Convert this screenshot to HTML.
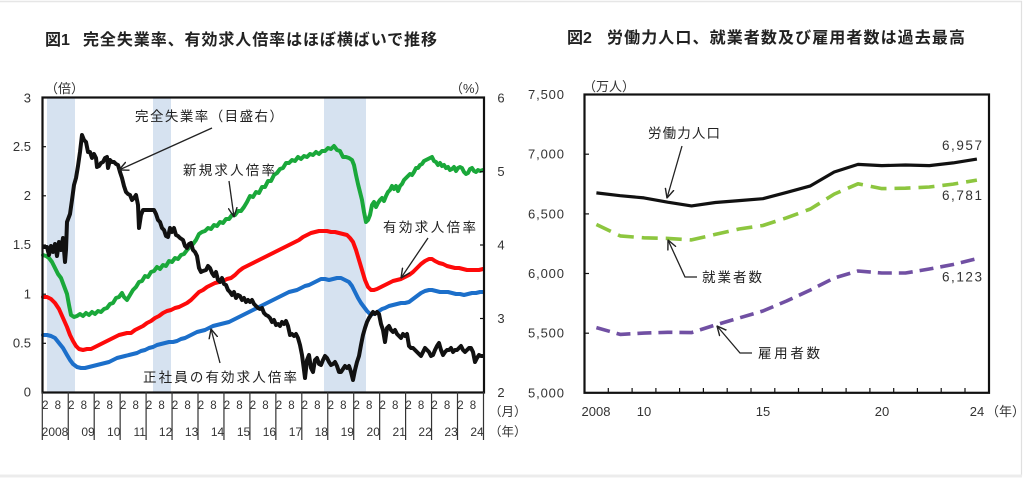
<!DOCTYPE html>
<html><head><meta charset="utf-8">
<style>
html,body{margin:0;padding:0;background:#fff;overflow:hidden;}
svg{display:block;}
text{font-family:"Liberation Sans","Noto Sans CJK JP",sans-serif;}
</style></head>
<body>
<svg width="1024" height="478" viewBox="0 0 1024 478" xmlns="http://www.w3.org/2000/svg">
<defs>
<marker id="ah" viewBox="0 0 10 10" refX="9.5" refY="5" markerWidth="10" markerHeight="10" markerUnits="userSpaceOnUse" orient="auto">
<path d="M0,0.5 L9.5,5 L0,9.5" fill="none" stroke="#222" stroke-width="1.4"/>
</marker>
</defs>
<rect x="0" y="0" width="1024" height="478" fill="#fff"/>
<!-- faint frame -->
<line x1="0" y1="1.5" x2="1022" y2="1.5" stroke="#e6e6e6" stroke-width="1.5"/>
<line x1="1021.5" y1="1" x2="1021.5" y2="476" stroke="#e0e0e0" stroke-width="1.2"/>
<line x1="0" y1="476" x2="1022" y2="476" stroke="#ececec" stroke-width="3"/>

<!-- ============ LEFT CHART ============ -->
<text x="45" y="45" font-size="16" font-weight="bold" fill="#222">図1</text>
<text x="83" y="45" font-size="16" font-weight="bold" fill="#222" textLength="354" lengthAdjust="spacing">完全失業率、有効求人倍率はほぼ横ばいで推移</text>

<!-- shading -->
<rect x="47" y="98" width="28" height="294" fill="#d6e2f0"/>
<rect x="153" y="98" width="18" height="294" fill="#d6e2f0"/>
<rect x="324" y="98" width="42" height="294" fill="#d6e2f0"/>

<!-- axis labels left -->
<g font-size="13" fill="#333" text-anchor="end">
<text x="31" y="102.5">3</text>
<text x="31" y="151">2.5</text>
<text x="31" y="200">2</text>
<text x="31" y="249">1.5</text>
<text x="31" y="298.5">1</text>
<text x="31" y="347.5">0.5</text>
<text x="31" y="396.5">0</text>
</g>
<g font-size="13" fill="#333" text-anchor="middle">
<text x="501" y="102.5">6</text>
<text x="501" y="176">5</text>
<text x="501" y="249.5">4</text>
<text x="501" y="323">3</text>
<text x="501" y="397">2</text>
</g>
<text x="45" y="93" font-size="13" fill="#333">（倍）</text>
<text x="450" y="93" font-size="13" fill="#333">（%）</text>

<!-- series -->
<g fill="none" stroke-linejoin="round" stroke-linecap="round">
<polyline stroke="#1aa83a" stroke-width="4" points="43,255 46,256 49,258 52,262 55,268 58,274 61,278 64,286 67,294 69,305 71,315 74,317 77,316 80,314 83,316 86,313 89,315 92,312 95,314 98,311 101,312 104,309 107,308 110,304 113,303 116,298 119,297 122,293 124,297 127,300 130,295 133,290 136,287 139,282 142,281 145,276 148,277 151,272 154,271 157,267 160,269 163,265 166,266 169,261 172,262 175,258 178,259 181,255 184,254 187,250 190,247 193,244 196,240 199,234 202,232 205,231 208,228 211,229 214,225 217,226 220,222 223,223 226,219 229,219 232,215 235,215 238,211 241,211 244,207 247,202 250,196 253,197 256,192 259,193 262,187 265,187 268,181 271,181 274,175 277,173 280,169 283,168 286,163 289,163 292,160 295,161 298,157 301,159 304,156 307,157 310,154 313,155 316,152 319,154 322,151 325,151 328,148 331,149 334,146 337,150 340,151 343,157 346,157 349,158 352,160 354,165 356,175 358,184 360,192 362,200 364,212 366,222 368,220 370,215 372,205 374,202 376,207 378,203 380,200 382,198 384,201 386,196 388,192 390,190 392,186 394,189 396,186 398,191 400,186 402,184 404,180 406,178 408,176 410,174 412,175 414,172 416,168 418,168 420,165 422,164 424,161 426,160 428,159 430,158 432,157 434,161 436,162 438,165 440,163 442,166 444,165 446,168 448,167 450,170 452,169 454,167 456,171 458,168 460,167 462,168 464,172 466,174 468,173 470,169 472,168 474,171 476,172 478,170 480,171 483,170"/>
<polyline stroke="#fe0a0a" stroke-width="4" points="43,297 47,297 51,299 55,303 59,309 63,318 67,327 70,335 73,341 76,346 79,349 83,350 87,349 91,349 95,347 99,345 103,343 107,341 111,339 115,337 119,335 123,334 127,333 131,333 135,330 139,328 143,326 147,323 151,321 155,318 159,316 163,313 167,311 171,310 175,308 179,307 183,305 187,303 191,300 195,296 199,292 203,290 207,287 211,285 215,283 219,282 223,281 227,279 231,278 235,275 239,271 243,268 247,266 251,264 255,262 259,260 263,258 267,256 271,254 275,252 279,250 283,248 287,246 291,244 295,242 299,240 303,237 307,235 311,233 315,232 319,231 323,231 327,231 331,232 335,232 339,233 343,234 347,235 350,238 353,242 356,250 359,260 362,270 365,280 368,287 371,290 374,290 377,289 381,287 385,285 389,283 393,281 397,280 401,279 405,277 409,275 413,272 417,268 421,264 425,261 429,259 432,259 435,261 439,263 443,264 447,266 451,267 455,268 459,268 463,269 467,270 471,270 475,270 479,270 483,269"/>
<polyline stroke="#1c6fca" stroke-width="4" points="43,335 47,335 51,336 55,338 59,343 63,348 67,355 70,360 73,364 77,367 81,368 85,368 89,367 93,366 97,365 101,364 105,363 109,362 113,360 117,358 121,357 125,356 129,355 133,354 137,353 141,351 145,350 149,348 153,347 157,345 161,344 165,343 169,342 173,342 177,341 181,339 185,338 189,336 193,334 197,332 201,331 205,330 209,328 213,326 217,325 221,324 225,323 229,322 233,320 237,318 241,316 245,314 249,312 253,310 257,308 261,306 265,304 269,302 273,300 277,298 281,296 285,294 289,292 293,291 297,290 301,288 305,286 309,285 313,283 317,281 321,279 325,279 329,280 333,279 337,278 341,278 345,280 349,282 352,286 355,292 358,298 361,303 364,307 367,311 370,314 373,314 376,313 379,311 382,309 385,308 389,306 393,305 397,304 401,303 405,303 409,302 413,299 417,296 421,293 425,291 429,290 432,290 436,291 440,292 444,292 448,292 452,293 456,294 460,294 464,295 468,294 472,293 476,293 480,292 483,292"/>
<polyline stroke="#111" stroke-width="4" points="44,247 47,247 49,255 51,246 53,252 55,244 57,256 59,242 61,250 63,238 65,262 66,250 67,222 70,214 72,200 74,185 76,178 78,166 80,152 82,135 84,140 86,142 88,152 90,152 92,158 94,154 96,158 97,167 99,166 101,163 103,162 105,158 107,157 108,168 110,160 112,162 114,162 116,164 118,165 120,172 122,178 124,186 126,192 128,194 130,195 132,200 134,198 136,195 138,205 139,228 141,215 143,210 146,210 150,210 154,210 156,214 158,220 160,222 162,228 164,230 166,236 168,237 170,228 172,232 174,228 176,235 178,236 180,238 183,240 185,246 187,248 189,244 191,243 193,250 195,252 197,256 199,268 201,272 203,271 206,270 208,266 210,268 212,273 214,276 216,272 218,280 220,282 222,278 224,284 226,285 228,290 230,292 232,295 234,292 236,298 238,295 240,296 242,300 244,298 246,302 248,300 250,302 252,300 254,304 256,306 258,308 260,309 262,308 264,313 266,315 268,316 270,318 272,322 274,320 276,325 278,324 280,326 282,322 284,324 286,321 288,326 290,335 292,334 294,336 296,334 298,338 300,345 302,355 304,370 305,378 307,360 309,355 311,368 313,372 315,360 317,358 319,364 321,365 323,360 325,356 327,358 329,362 331,365 333,364 335,362 337,366 339,372 341,372 343,369 345,366 347,368 349,366 351,372 353,380 355,370 357,362 359,356 361,345 363,335 365,328 367,322 369,318 371,315 373,312 375,314 377,312 379,314 381,324 383,330 385,342 387,328 389,326 391,330 393,332 395,330 397,334 399,336 401,338 403,334 405,336 407,334 409,346 411,348 413,348 415,350 417,352 419,354 421,356 423,352 425,348 427,350 429,352 431,356 433,355 435,350 437,346 439,343 441,350 443,355 445,352 447,350 449,350 451,348 453,352 455,350 457,350 459,348 461,346 463,350 465,352 467,350 469,348 471,348 473,352 475,362 477,358 479,355 481,356 483,356"/>
</g>

<!-- left box & ticks -->
<rect x="42.5" y="97.5" width="441.5" height="295" fill="none" stroke="#111" stroke-width="2.2"/>
<g stroke="#111" stroke-width="1.2">
<line x1="42" y1="146.7" x2="46" y2="146.7"/>
<line x1="42" y1="195.8" x2="46" y2="195.8"/>
<line x1="42" y1="245" x2="46" y2="245"/>
<line x1="42" y1="294.2" x2="46" y2="294.2"/>
<line x1="42" y1="343.3" x2="46" y2="343.3"/>
<line x1="480" y1="171.7" x2="484" y2="171.7"/>
<line x1="480" y1="245" x2="484" y2="245"/>
<line x1="480" y1="318.5" x2="484" y2="318.5"/>
</g>

<!-- month labels -->
<g font-size="11.5" fill="#333" text-anchor="middle">
<text x="45.3" y="409">2</text><text x="57.8" y="409">8</text>
<text x="71.3" y="409">2</text><text x="83.8" y="409">8</text>
<text x="97.2" y="409">2</text><text x="109.7" y="409">8</text>
<text x="123.2" y="409">2</text><text x="135.7" y="409">8</text>
<text x="149.1" y="409">2</text><text x="161.6" y="409">8</text>
<text x="175.1" y="409">2</text><text x="187.6" y="409">8</text>
<text x="201" y="409">2</text><text x="213.5" y="409">8</text>
<text x="227" y="409">2</text><text x="239.5" y="409">8</text>
<text x="252.9" y="409">2</text><text x="265.4" y="409">8</text>
<text x="278.9" y="409">2</text><text x="291.4" y="409">8</text>
<text x="304.8" y="409">2</text><text x="317.3" y="409">8</text>
<text x="330.8" y="409">2</text><text x="343.3" y="409">8</text>
<text x="356.7" y="409">2</text><text x="369.2" y="409">8</text>
<text x="382.7" y="409">2</text><text x="395.2" y="409">8</text>
<text x="408.6" y="409">2</text><text x="421.1" y="409">8</text>
<text x="434.6" y="409">2</text><text x="447.1" y="409">8</text>
<text x="460.5" y="409">2</text><text x="473" y="409">8</text>
</g>
<g font-size="12" fill="#333" text-anchor="middle">
<text x="55" y="436">2008</text>
<text x="88" y="436">09</text>
<text x="113.7" y="436">10</text>
<text x="139.7" y="436">11</text>
<text x="165.6" y="436">12</text>
<text x="191.6" y="436">13</text>
<text x="217.5" y="436">14</text>
<text x="243.5" y="436">15</text>
<text x="269.4" y="436">16</text>
<text x="295.4" y="436">17</text>
<text x="321.3" y="436">18</text>
<text x="347.3" y="436">19</text>
<text x="373.2" y="436">20</text>
<text x="399.2" y="436">21</text>
<text x="425.1" y="436">22</text>
<text x="451.1" y="436">23</text>
<text x="477" y="436">24</text>
</g>
<text x="489" y="416" font-size="12.5" fill="#333">（月）</text>
<text x="489" y="436" font-size="12.5" fill="#333">（年）</text>
<g stroke="#333" stroke-width="1.2">
<line x1="42.3" y1="392" x2="42.3" y2="440"/>
<line x1="68.25" y1="392" x2="68.25" y2="440"/>
<line x1="94.2" y1="392" x2="94.2" y2="440"/>
<line x1="120.15" y1="392" x2="120.15" y2="440"/>
<line x1="146.1" y1="392" x2="146.1" y2="440"/>
<line x1="172.05" y1="392" x2="172.05" y2="440"/>
<line x1="198" y1="392" x2="198" y2="440"/>
<line x1="223.95" y1="392" x2="223.95" y2="440"/>
<line x1="249.9" y1="392" x2="249.9" y2="440"/>
<line x1="275.85" y1="392" x2="275.85" y2="440"/>
<line x1="301.8" y1="392" x2="301.8" y2="440"/>
<line x1="327.75" y1="392" x2="327.75" y2="440"/>
<line x1="353.7" y1="392" x2="353.7" y2="440"/>
<line x1="379.65" y1="392" x2="379.65" y2="440"/>
<line x1="405.6" y1="392" x2="405.6" y2="440"/>
<line x1="431.55" y1="392" x2="431.55" y2="440"/>
<line x1="457.5" y1="392" x2="457.5" y2="440"/>
<line x1="483.5" y1="392" x2="483.5" y2="440"/>
</g>

<!-- left annotations -->
<g font-size="13.5" fill="#222">
<text x="135" y="121" textLength="148" lengthAdjust="spacing">完全失業率（目盛右）</text>
<text x="183" y="175" textLength="92" lengthAdjust="spacing">新規求人倍率</text>
<text x="383" y="232" textLength="93" lengthAdjust="spacing">有効求人倍率</text>
<text x="143" y="382" textLength="154" lengthAdjust="spacing">正社員の有効求人倍率</text>
</g>
<g stroke="#222" stroke-width="1.3" fill="none" marker-end="url(#ah)">
<line x1="212" y1="128" x2="119" y2="170"/>
<line x1="229" y1="181" x2="234" y2="217"/>
<line x1="428" y1="238" x2="401" y2="278"/>
<line x1="220" y1="363" x2="211" y2="329"/>
</g>

<!-- ============ RIGHT CHART ============ -->
<text x="567" y="43" font-size="16" font-weight="bold" fill="#222">図2</text>
<text x="607" y="43" font-size="16" font-weight="bold" fill="#222" textLength="358" lengthAdjust="spacing">労働力人口、就業者数及び雇用者数は過去最高</text>

<text x="583" y="91" font-size="13" fill="#333">（万人）</text>
<g font-size="13" fill="#333" text-anchor="end">
<text x="564" y="99" textLength="36">7,500</text>
<text x="564" y="158.7" textLength="36">7,000</text>
<text x="564" y="218.4" textLength="36">6,500</text>
<text x="564" y="278" textLength="36">6,000</text>
<text x="564" y="337.7" textLength="36">5,500</text>
<text x="564" y="397.3" textLength="36">5,000</text>
</g>
<g font-size="13" fill="#333" text-anchor="middle">
<text x="596" y="416">2008</text>
<text x="644" y="416">10</text>
<text x="763" y="416">15</text>
<text x="882" y="416">20</text>
<text x="977" y="416">24</text>
</g>
<text x="986" y="416" font-size="13" fill="#333">（年）</text>

<g fill="none" stroke-linejoin="round">
<polyline stroke="#7150a3" stroke-width="3.6" stroke-dasharray="14,7" points="596.4,327.6 620.2,334.4 644,333.1 667.7,332.3 691.5,332.6 715.3,325 739.1,318 762.9,311 786.6,301 810.4,290 834.2,278 858,271 881.8,273 905.5,273 929.3,269 953.1,264.5 976.9,258.7"/>
<polyline stroke="#8dc63f" stroke-width="3.6" stroke-dasharray="16,8" points="596.4,224.5 620.2,235.9 644,237.8 667.7,238.4 691.5,239.9 715.3,234.4 739.1,229 762.9,225.5 786.6,217.8 810.4,209 834.2,194.1 858,183.8 881.8,188.6 905.5,188.2 929.3,187 953.1,184.1 976.9,180.1"/>
<polyline stroke="#111" stroke-width="3.2" points="596.4,192.9 620.2,195.7 644,197.9 667.7,202.2 691.5,205.9 715.3,202.5 739.1,200.6 762.9,198.7 786.6,192.4 810.4,185.9 834.2,172 858,164.4 881.8,165.6 905.5,165 929.3,165.6 953.1,162.9 976.9,159.1"/>
</g>

<rect x="584.5" y="94.5" width="404.5" height="298.3" fill="none" stroke="#111" stroke-width="2.2"/>
<g stroke="#111" stroke-width="1.2">
<line x1="584" y1="154.2" x2="589" y2="154.2"/>
<line x1="584" y1="213.9" x2="589" y2="213.9"/>
<line x1="584" y1="273.5" x2="589" y2="273.5"/>
<line x1="584" y1="333.2" x2="589" y2="333.2"/>
<line x1="608.3" y1="392.8" x2="608.3" y2="388"/>
<line x1="632.1" y1="392.8" x2="632.1" y2="388"/>
<line x1="655.9" y1="392.8" x2="655.9" y2="388"/>
<line x1="679.6" y1="392.8" x2="679.6" y2="388"/>
<line x1="703.4" y1="392.8" x2="703.4" y2="388"/>
<line x1="727.2" y1="392.8" x2="727.2" y2="388"/>
<line x1="751" y1="392.8" x2="751" y2="388"/>
<line x1="774.8" y1="392.8" x2="774.8" y2="388"/>
<line x1="798.5" y1="392.8" x2="798.5" y2="388"/>
<line x1="822.3" y1="392.8" x2="822.3" y2="388"/>
<line x1="846.1" y1="392.8" x2="846.1" y2="388"/>
<line x1="869.9" y1="392.8" x2="869.9" y2="388"/>
<line x1="893.7" y1="392.8" x2="893.7" y2="388"/>
<line x1="917.4" y1="392.8" x2="917.4" y2="388"/>
<line x1="941.2" y1="392.8" x2="941.2" y2="388"/>
<line x1="965" y1="392.8" x2="965" y2="388"/>
</g>

<g font-size="13.5" fill="#222">
<text x="648" y="138" textLength="72" lengthAdjust="spacing">労働力人口</text>
<text x="702" y="282" textLength="60" lengthAdjust="spacing">就業者数</text>
<text x="758" y="358" textLength="62" lengthAdjust="spacing">雇用者数</text>
</g>
<g font-size="13.5" fill="#333">
<text x="942" y="150" textLength="40">6,957</text>
<text x="942" y="200" textLength="40">6,781</text>
<text x="942" y="281.5" textLength="40">6,123</text>
</g>
<g stroke="#222" stroke-width="1.3" fill="none" marker-end="url(#ah)">
<line x1="682" y1="146" x2="667" y2="198"/>
<polyline points="697,277 685,277 668,240"/>
<polyline points="752,353 740,353 717,326"/>
</g>
</svg>
</body></html>
